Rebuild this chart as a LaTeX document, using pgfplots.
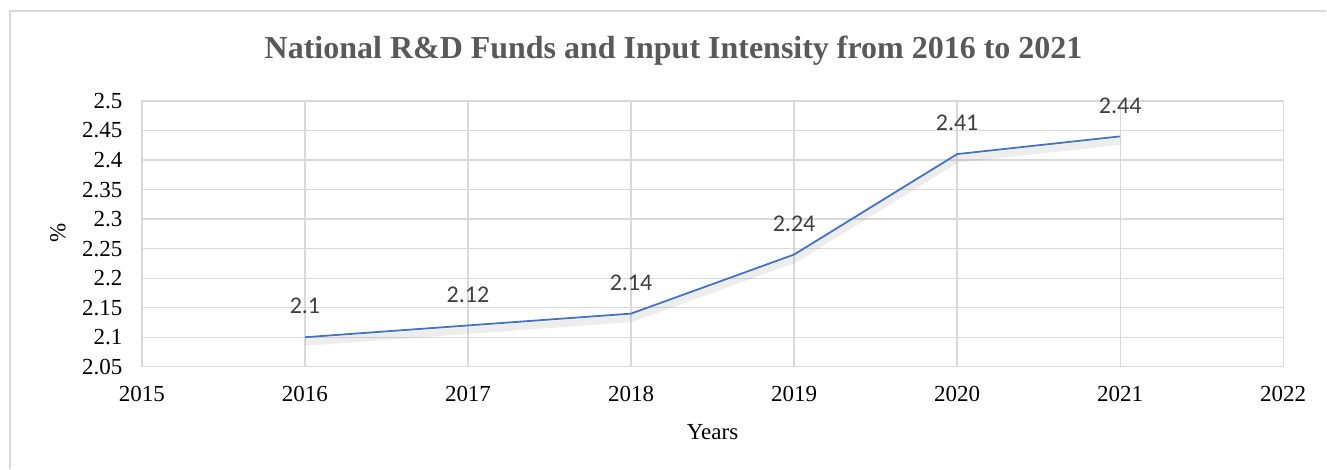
\documentclass[border=0pt]{standalone}
\usepackage{fontspec}
\setmainfont{Liberation Serif}
\newfontfamily\carlito{Carlito}
\usepackage{pgfplots}
\pgfplotsset{compat=1.18}
\definecolor{gridc}{HTML}{D9D9D9}
\definecolor{linec}{HTML}{4472C4}
\definecolor{titlec}{HTML}{595959}
\definecolor{labc}{HTML}{404040}
\begin{document}
\begin{tikzpicture}
\path[fill=white] (-142pt,-102pt) rectangle (1185pt,367pt);
\draw[gridc, line width=1.5pt] (-132pt,-102pt) -- (-132pt,356pt) -- (1185pt,356pt);
\begin{axis}[at={(0pt,0pt)}, anchor=south west, scale only axis,
  width=1142pt, height=266pt,
  xmin=2015, xmax=2022, ymin=2.05, ymax=2.5,
  xtick={2015,2016,2017,2018,2019,2020,2021,2022},
  ytick={2.05,2.1,2.15,2.2,2.25,2.3,2.35,2.4,2.45,2.5},
  yticklabels={2.05,2.1,2.15,2.2,2.25,2.3,2.35,2.4,2.45,2.5},
  /pgf/number format/.cd, 1000 sep={}, assume math mode=true, /pgfplots/.cd,
  grid=major, major grid style={gridc, line width=1.3pt},
  axis line style={gridc, line width=1.3pt},
  major tick length=0pt,
  ticklabel style={font=\fontsize{23}{27}\selectfont, text=black},
  xticklabel style={yshift=-16pt},
  yticklabel style={xshift=-16pt},
  clip=false,
]
\addplot[gray, opacity=0.14, line width=7pt, shift={(0pt,-5pt)}, forget plot] coordinates {
(2016,2.1) (2017,2.12) (2018,2.14) (2019,2.24) (2020,2.41) (2021,2.44)};
\addplot[linec, line width=1.8pt, nodes near coords, point meta=explicit symbolic,
  nodes near coords style={font=\carlito\fontsize{24}{28}\selectfont, text=labc, anchor=center, yshift=31pt}]
  coordinates {
(2016,2.1)[2.1] (2017,2.12)[2.12] (2018,2.14)[2.14] (2019,2.24)[2.24] (2020,2.41)[2.41] (2021,2.44)[2.44]};
\end{axis}
\node[font=\fontsize{32}{38}\selectfont\bfseries, text=titlec] at (532pt,316pt) {National R\&D Funds and Input Intensity from 2016 to 2021};
\node[font=\fontsize{23}{27}\selectfont] at (571pt,-65pt) {Years};
\node[font=\fontsize{23}{27}\selectfont, rotate=90] at (-84pt,134pt) {\%};
\end{tikzpicture}
\end{document}
